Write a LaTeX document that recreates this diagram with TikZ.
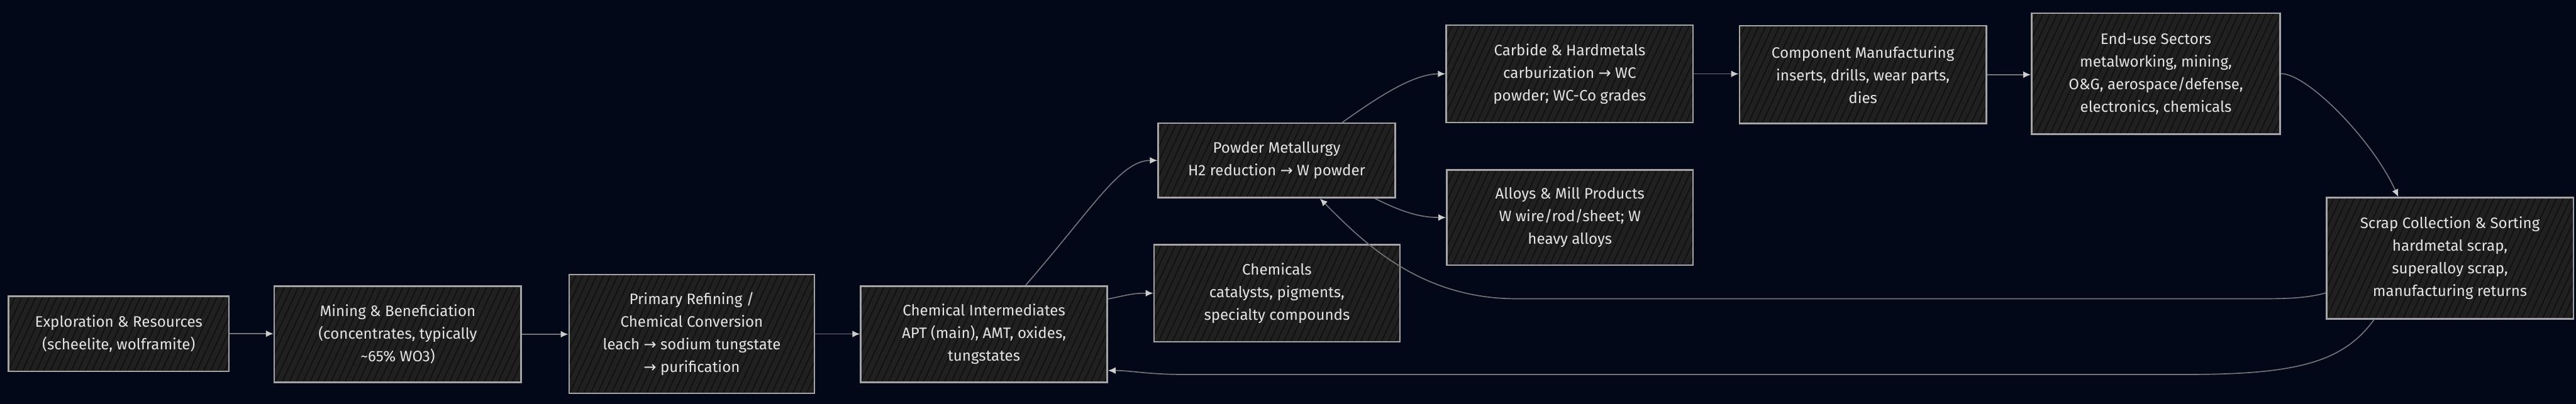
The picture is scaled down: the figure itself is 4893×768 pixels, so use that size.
\documentclass[tikz,border=0pt]{standalone}
\usepackage{fontspec}
\setmainfont{Fira Sans}
\newfontfamily\arrfont{DejaVu Sans}
\usetikzlibrary{arrows.meta,calc,patterns.meta}
\newcommand\rarr{{\arrfont\char"2192}}
\definecolor{bgc}{RGB}{2,8,23}
\definecolor{boxfill}{RGB}{32,32,32}
\definecolor{hatchc}{RGB}{16,16,18}
\definecolor{boxline}{RGB}{165,165,165}
\definecolor{txt}{RGB}{228,228,228}
\definecolor{edgec}{RGB}{115,115,122}
\definecolor{tipc}{RGB}{205,205,205}
\tikzset{
  box/.style={draw=boxline, line width=0.75pt,
    preaction={fill=boxfill},
    preaction={pattern={Lines[angle=65,distance=3pt,line width=0.5pt]}, pattern color=hatchc},
    text=txt, align=center, inner sep=0pt,
    font=\fontsize{7.2}{10.75}\selectfont},
  edge/.style={draw=edgec, line width=0.5pt, -{Latex[length=3.6pt,width=3.2pt,color=tipc]}},
}
\begin{document}
\begin{tikzpicture}[x=0.25pt,y=-0.25pt]
\fill[bgc] (0,0) rectangle (4893,768);
\useasboundingbox (0,0) rectangle (4893,768);

\node[box, minimum width=104.75pt, minimum height=35.75pt] (exp) at (225.5,634.5)
  {Exploration \& Resources\\(scheelite, wolframite)};
\node[box, minimum width=117.25pt, minimum height=45.75pt] (mining) at (755.5,635.5)
  {Mining \& Beneficiation\\(concentrates, typically\\\textasciitilde65\% WO3)};
\node[box, minimum width=116.5pt, minimum height=56.5pt] (primary) at (1314,635)
  {Primary Refining /\\Chemical Conversion\\leach \rarr{} sodium tungstate\\\rarr{} purification};
\node[box, minimum width=117pt, minimum height=45.75pt] (chemint) at (1869,635.5)
  {Chemical Intermediates\\APT (main), AMT, oxides,\\tungstates};
\node[box, minimum width=112.5pt, minimum height=35.5pt] (powder) at (2425,305)
  {Powder Metallurgy\\H2 reduction \rarr{} W powder};
\node[box, minimum width=116.75pt, minimum height=46.25pt] (chemicals) at (2425.5,557.5)
  {Chemicals\\catalysts, pigments,\\specialty compounds};
\node[box, minimum width=117.25pt, minimum height=46.25pt] (carbide) at (2981.5,140.5)
  {Carbide \& Hardmetals\\carburization \rarr{} WC\\powder; WC-Co grades};
\node[box, minimum width=117pt, minimum height=45.25pt] (alloys) at (2982,413.5)
  {Alloys \& Mill Products\\W wire/rod/sheet; W\\heavy alloys};
\node[box, minimum width=117.25pt, minimum height=46.5pt] (component) at (3538.5,142)
  {Component Manufacturing\\inserts, drills, wear parts,\\dies};
\node[box, minimum width=118pt, minimum height=57.5pt] (enduse) at (4095,140)
  {End-use Sectors\\metalworking, mining,\\O\&G, aerospace/defense,\\electronics, chemicals};
\node[box, minimum width=117.25pt, minimum height=57.5pt] (scrap) at (4653.5,491)
  {Scrap Collection \& Sorting\\hardmetal scrap,\\superalloy scrap,\\manufacturing returns};

\draw[edge] (exp.east) -- (exp.east -| mining.west);
\draw[edge] (mining.east) -- (mining.east -| primary.west);
\draw[edge] (primary.east) -- (primary.east -| chemint.west);
\draw[edge] ($(chemint.north)+(79,0)$) .. controls +(130,-150) and +(-70,0) .. (powder.west);
\draw[edge] ($(chemint.east)+(0,-67)$) .. controls +(40,-8) and +(-40,0) .. (chemicals.west);
\draw[edge] ($(powder.north)+(125,0)$) .. controls +(70,-50) and +(-60,0) .. (carbide.west);
\draw[edge] ($(powder.south)+(187,0)$) .. controls +(50,25) and +(-50,0) .. (alloys.west);
\draw[edge] (carbide.east) -- (carbide.east -| component.west);
\draw[edge] (component.east) -- (component.east -| enduse.west);
\draw[edge] (enduse.east) .. controls +(50,0) and +(-50,-110) .. ($(scrap.north)+(-98,0)$);
\draw[edge] ($(scrap.west)+(0,66)$) .. controls (4385,566) and (4350,568) .. (4300,568)
  -- (2880,568) .. controls (2690,568) and (2580,450) .. ($(powder.south)+(82,0)$);
\draw[edge] ($(scrap.south)+(-144,0)$) .. controls (4450,690) and (4360,712) .. (4150,712)
  -- (2250,712) .. controls (2180,712) and (2150,704.5) .. ($(chemint.east)+(0,69)$);
\end{tikzpicture}
\end{document}
